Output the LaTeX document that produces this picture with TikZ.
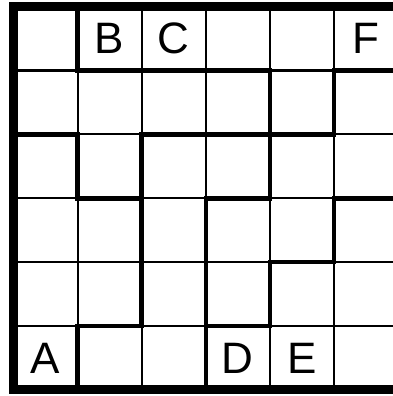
\documentclass[tikz,border=0pt]{standalone}
\usepackage{fontspec}
\setmainfont{Liberation Sans}
\begin{document}
\begin{tikzpicture}[x=1pt,y=1pt,
  thinline/.style={line width=2.2pt},
  thickline/.style={line width=4.6pt, line cap=rect},
  borderline/.style={line width=9pt},
  letter/.style={font=\fontsize{44}{44}\selectfont, inner sep=0pt}]
\useasboundingbox (0,0) rectangle (393,-396);
\clip (0,0) rectangle (393,-396);
\begin{scope}[shift={(13.5pt,-6.5pt)}, x={(64.1pt,0pt)}, y={(0pt,-63.9pt)}]
  % thin grid
  \foreach \i in {1,...,5} {
    \draw[thinline] (\i,0) -- (\i,6);
    \draw[thinline] (0,\i) -- (6,\i);
  }
  % thick vertical segments: column line / row
  \foreach \i/\r in {1/0, 4/1, 5/1, 1/2, 2/2, 4/2, 2/3, 3/3, 5/3, 2/4, 3/4, 4/4, 1/5, 3/5}
    \draw[thickline] (\i,\r) -- (\i,\r+1);
  % thick horizontal segments: row line / column
  \foreach \j/\c in {1/1, 1/2, 1/3, 1/5, 2/0, 2/2, 2/3, 2/4, 3/1, 3/3, 3/5, 4/4, 5/1, 5/3}
    \draw[thickline] (\c,\j) -- (\c+1,\j);
  % outer border
  \draw[borderline] (0,0) rectangle (6,6);
  % letters
  \node[letter] (B) at (1.5,0.5) {B};
  \node[letter] (C) at (2.5,0.5) {C};
  \node[letter] (F) at (5.5,0.5) {F};
  \node[letter] (A) at (0.5,5.5) {A};
  \node[letter] (D) at (3.5,5.5) {D};
  \node[letter] (E) at (4.5,5.5) {E};
\end{scope}
\end{tikzpicture}
\end{document}
